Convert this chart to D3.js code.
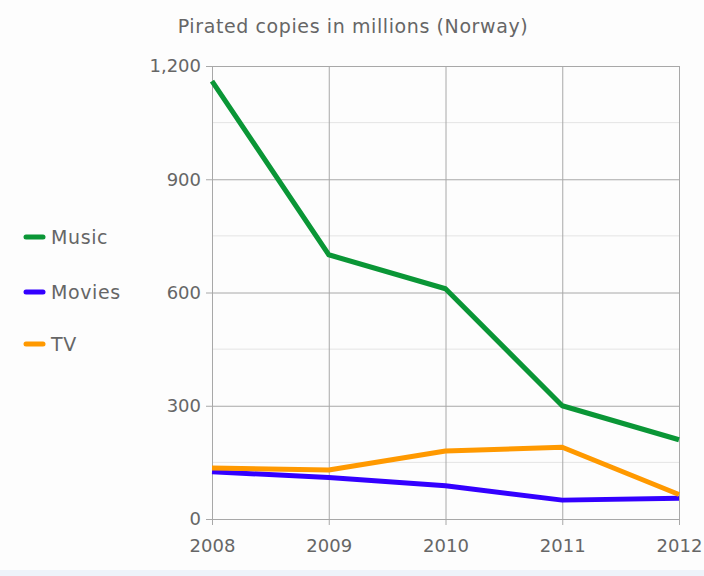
<!DOCTYPE html>
<html>
<head>
<meta charset="utf-8">
<script src="https://cdn.jsdelivr.net/npm/d3@7"></script>
<style>
  body { margin: 0; background: #fdfdfd; }
  svg { display: block; }
</style>
</head>
<body>
<div id="chart"></div>
<script>
// Chart data
const years = [2008, 2009, 2010, 2011, 2012];
const music = [1160, 700, 610, 300, 210];
const movies = [125, 110, 88, 50, 55];
const tv = [135, 130, 180, 190, 65];
const seriesNames = ["Music", "Movies", "TV"];
const seriesColors = ["#0a9636", "#3300ff", "#ff9900"];
const majorTicks = [0, 300, 600, 900, 1200];
const minorTicks = [150, 450, 750, 1050];

const W = 704, H = 576;
const margin = { top: 66, right: 25, bottom: 57, left: 212 };
const width = W - margin.left - margin.right;
const height = H - margin.top - margin.bottom;
const font = "'DejaVu Sans', sans-serif";

const svg = d3.select("#chart")
  .append("svg")
    .attr("width", W)
    .attr("height", H);

// bottom band
svg.append("rect")
   .attr("x", 0).attr("y", 570)
   .attr("width", W).attr("height", H - 570)
   .attr("fill", "#eef3fa");

const g = svg.append("g")
  .attr("transform", `translate(${margin.left},${margin.top})`);

const xScale = d3.scalePoint().domain(years).range([0, width]);
const yScale = d3.scaleLinear().domain([0, 1200]).range([height, 0]);

// minor grid
g.selectAll(".minor")
  .data(minorTicks)
  .join("line")
    .attr("class", "minor")
    .attr("x1", 0).attr("x2", width)
    .attr("y1", d => yScale(d)).attr("y2", d => yScale(d))
    .attr("stroke", "#e4e4e4").attr("stroke-width", 1);

// y axis with gridlines
const yAxis = d3.axisLeft(yScale)
  .tickValues(majorTicks)
  .tickSize(-width)
  .tickFormat(d3.format(","));
const yG = g.append("g").call(yAxis);
yG.select(".domain").remove();
yG.selectAll(".tick line")
  .attr("x1", -6)
  .attr("stroke", "#a8a8a8");
yG.selectAll(".tick text")
  .attr("x", -11)
  .attr("fill", "#666")
  .style("font-family", font)
  .style("font-size", "18px");

// x axis with gridlines
const xAxis = d3.axisBottom(xScale).tickSize(-height);
const xG = g.append("g")
  .attr("transform", `translate(0,${height})`)
  .call(xAxis);
xG.select(".domain").remove();
xG.selectAll(".tick line")
  .attr("y1", 6)
  .attr("stroke", "#a8a8a8");
xG.selectAll(".tick text")
  .attr("y", 20)
  .attr("fill", "#666")
  .style("font-family", font)
  .style("font-size", "18px");

// lines
const allSeries = [music, movies, tv];
const line = d3.line()
  .x((d, i) => xScale(years[i]))
  .y(d => yScale(d));

g.selectAll(".series")
  .data(allSeries)
  .join("path")
    .attr("class", "series")
    .attr("fill", "none")
    .attr("stroke", (d, i) => seriesColors[i])
    .attr("stroke-width", 5)
    .attr("stroke-linejoin", "round")
    .attr("d", line);

// title
svg.append("text")
   .attr("x", 353).attr("y", 33)
   .attr("text-anchor", "middle")
   .attr("fill", "#666")
   .style("font-family", font)
   .style("font-size", "19px")
   .style("letter-spacing", "0.6px")
   .text("Pirated copies in millions (Norway)");

// legend
const legendY = [237, 292, 344];
const legend = svg.selectAll(".legend")
  .data(seriesNames)
  .join("g")
    .attr("class", "legend")
    .attr("transform", (d, i) => `translate(26,${legendY[i]})`);
legend.append("line")
  .attr("x1", 0).attr("x2", 17)
  .attr("stroke", (d, i) => seriesColors[i])
  .attr("stroke-width", 5)
  .attr("stroke-linecap", "round");
legend.append("text")
  .attr("x", 25).attr("dy", "0.35em")
  .attr("fill", "#666")
  .style("font-family", font)
  .style("font-size", "19px")
  .style("letter-spacing", "0.6px")
  .text(d => d);
</script>
</body>
</html>
